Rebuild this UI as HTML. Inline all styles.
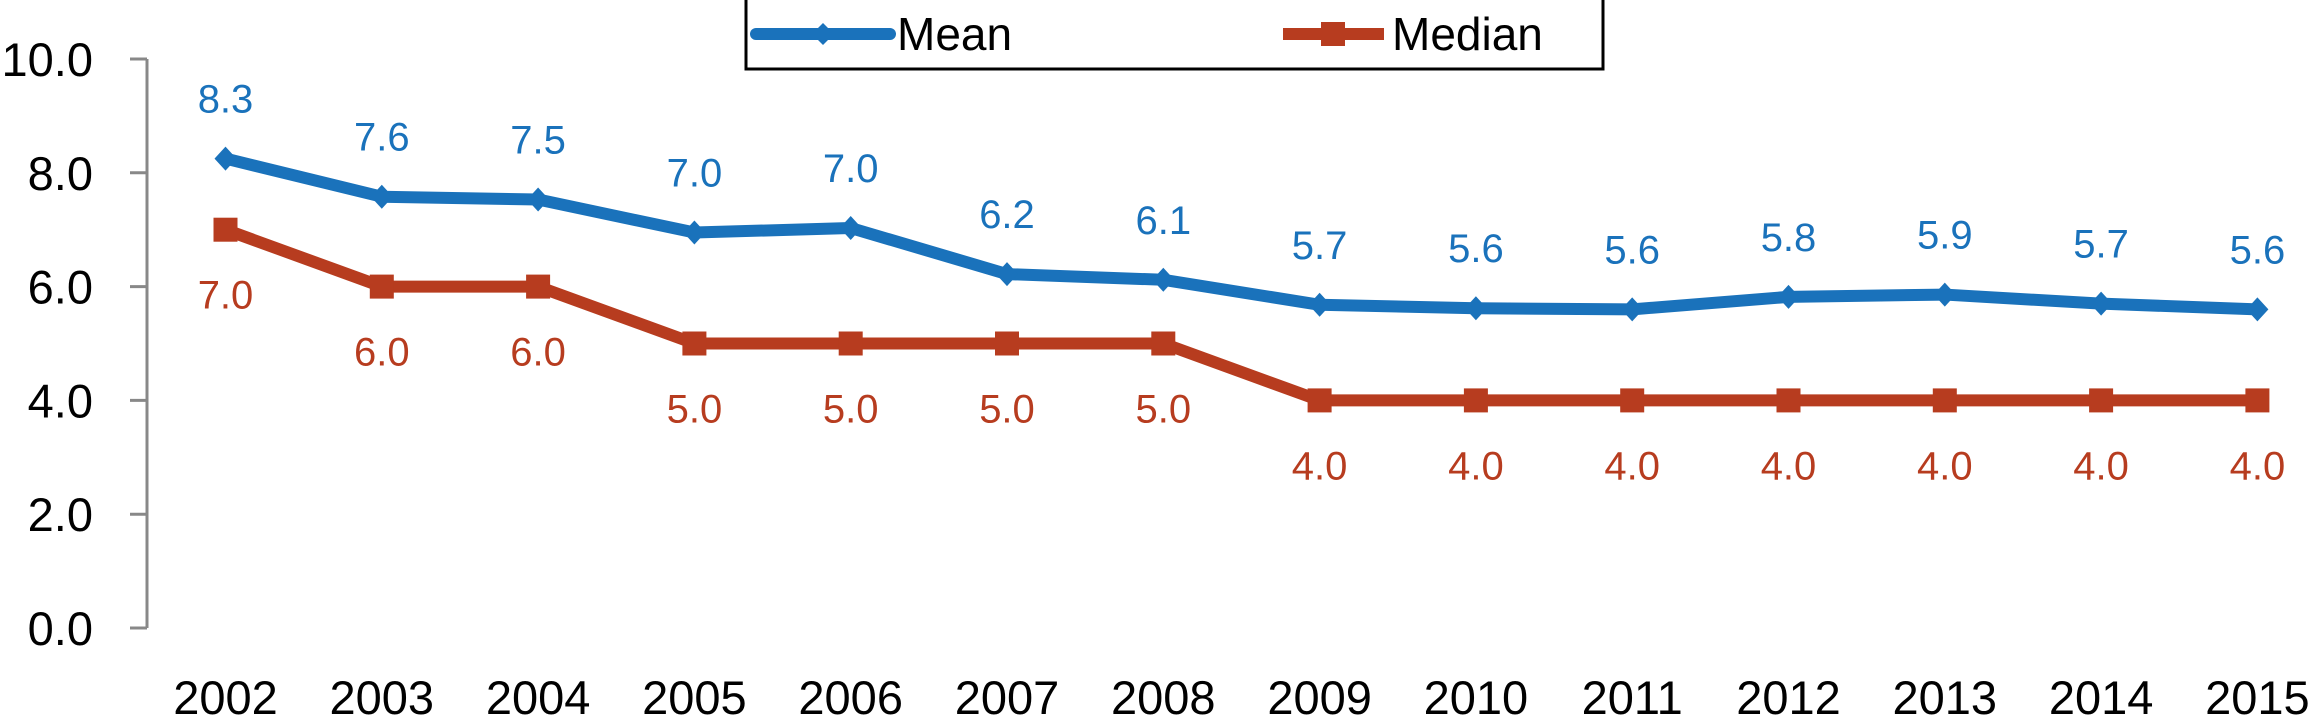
<!DOCTYPE html>
<html><head><meta charset="utf-8"><style>
html,body{margin:0;padding:0;background:#fff;}
svg{display:block;font-family:"Liberation Sans",Arial,sans-serif;}
</style></head><body>
<svg id="chart" width="2309" height="726" viewBox="0 0 2309 726" xmlns="http://www.w3.org/2000/svg">
<g id="axes"></g><g id="series"></g>
<g>
<rect x="746" y="-2" width="857" height="71" fill="#fff" stroke="#000" stroke-width="3"/>
<g>
<line x1="756" y1="34" x2="890" y2="34" stroke="#1a72bb" stroke-width="12" stroke-linecap="round"/>
<path d="M823 23 L834 34 L823 45 L812 34Z" fill="#1a72bb"/>
<text x="897" y="50" font-size="46" fill="#000">Mean</text></g>
<g>
<line x1="1283" y1="34" x2="1384" y2="34" stroke="#b73c1f" stroke-width="12"/>
<rect x="1321" y="22" width="24" height="24" fill="#b73c1f"/>
<text x="1392" y="50" font-size="46" fill="#000">Median</text></g>
</g>
</svg>
<script>
const years=["2002","2003","2004","2005","2006","2007","2008","2009","2010","2011","2012","2013","2014","2015"];
const meanValues=[8.25,7.58,7.53,6.95,7.03,6.22,6.12,5.68,5.62,5.6,5.82,5.86,5.7,5.6];
const meanLabels=["8.3","7.6","7.5","7.0","7.0","6.2","6.1","5.7","5.6","5.6","5.8","5.9","5.7","5.6"];
const medianValues=[7,6,6,5,5,5,5,4,4,4,4,4,4,4];
const medianLabels=["7.0","6.0","6.0","5.0","5.0","5.0","5.0","4.0","4.0","4.0","4.0","4.0","4.0","4.0"];
const yTicks=[0,2,4,6,8,10];
const yTickLabels=["0.0","2.0","4.0","6.0","8.0","10.0"];
const NS="http://www.w3.org/2000/svg";
const x=i=>225.5+i*156.3;
const y=v=>628-v*56.9;
function mk(tag,attrs,parent,txt){const e=document.createElementNS(NS,tag);for(const k in attrs)e.setAttribute(k,attrs[k]);if(txt!==undefined)e.textContent=txt;parent.appendChild(e);return e;}
const axes=document.getElementById('axes'),ser=document.getElementById('series');
const ax=mk('line',{x1:147,y1:y(10),x2:147,y2:y(0),stroke:'#888','stroke-width':3},axes);


yTicks.forEach((t,i)=>{
 const tk=mk('line',{x1:130,y1:y(t),x2:147,y2:y(t),stroke:'#888','stroke-width':3},axes);
 
 
 const tl=mk('text',{x:93,y:y(t)+17,'text-anchor':'end','font-size':47,fill:'#000'},axes,yTickLabels[i]);
 
 
});
years.forEach((yr,i)=>{
 const xl=mk('text',{x:x(i),y:714,'text-anchor':'middle','font-size':47,fill:'#000'},axes,yr);
 
 
});
function series(vals,labels,color,name,off,marker){
 const pl=mk('polyline',{points:vals.map((v,i)=>x(i)+','+y(v)).join(' '),fill:'none',stroke:color,'stroke-width':12,'stroke-linejoin':'round'},ser);
 
 
 vals.forEach((v,i)=>{
  let m;
  if(marker==='d'){const cx=x(i),cy=y(v);m=mk('path',{d:`M${cx} ${cy-12} L${cx+11} ${cy} L${cx} ${cy+12} L${cx-11} ${cy}Z`,fill:color},ser);}
  else{m=mk('rect',{x:x(i)-12,y:y(v)-12,width:24,height:24,fill:color},ser);}
  
  
  const t=mk('text',{x:x(i),y:y(v)+off,'text-anchor':'middle','font-size':40,fill:color},ser,labels[i]);
  
  
 });
}
series(meanValues,meanLabels,'#1a72bb','mean',-46,'d');
series(medianValues,medianLabels,'#b73c1f','median',79,'s');
</script>
</body></html>
